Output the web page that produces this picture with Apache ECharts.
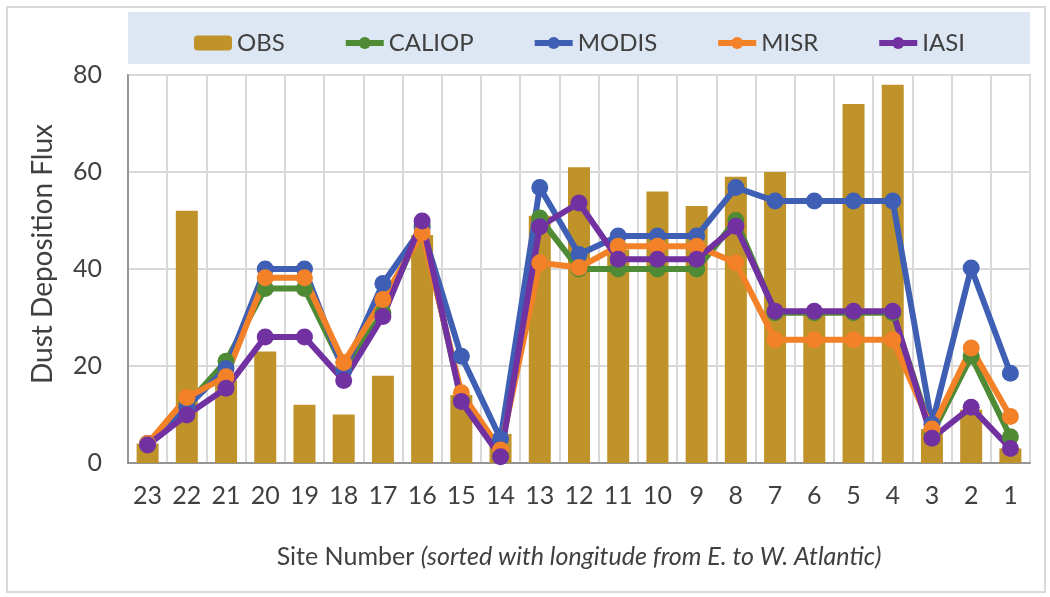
<!DOCTYPE html>
<html>
<head>
<meta charset="utf-8">
<script src="https://cdn.jsdelivr.net/npm/echarts@6/dist/echarts.min.js"></script>
<style>
html,body{margin:0;padding:0;background:#fff;}
#chart{width:1050px;height:597px;}
</style>
</head>
<body>
<div id="chart"></div>
<script>
const sites = ['23','22','21','20','19','18','17','16','15','14','13','12','11','10','9','8','7','6','5','4','3','2','1'];
const OBS    = [4, 52, 17, 23, 12, 10, 18, 47, 14, 6, 51, 61, 44, 56, 53, 59, 60, 31, 74, 78, 7, 11, 3];
const CALIOP = [4, 12, 21, 36, 36, 19.5, 31, 49, 13, 2, 50.5, 40, 40, 40, 40, 50, 31, 31, 31, 31, 6, 22, 5.4];
const MODIS  = [4, 11.5, 19.5, 40, 40, 19, 37, 48.5, 22, 5, 56.8, 43, 46.8, 46.8, 46.8, 56.8, 54, 54, 54, 54, 8, 40.2, 18.5];
const MISR   = [4, 13.5, 17.8, 38.2, 38.2, 20.7, 33.7, 47.5, 14.5, 2.7, 41.3, 40.3, 44.7, 44.7, 44.7, 41.3, 25.4, 25.4, 25.4, 25.4, 7, 23.7, 9.6];
const IASI   = [3.7, 9.9, 15.4, 26, 26, 17, 30.2, 49.9, 12.7, 1.3, 48.7, 53.6, 42, 42, 42, 48.8, 31.3, 31.3, 31.3, 31.3, 5.1, 11.5, 3];
const yTicks = [0, 20, 40, 60, 80];

const FONT = 'Lato';
const TXT = '#404040';
const colors = {OBS:'#C0922A', CALIOP:'#4E8B34', MODIS:'#3F5FB4', MISR:'#F28128', IASI:'#7131A1'};

function lineSeries(name, data){
  return {
    name, type:'line', data,
    symbol:'circle', symbolSize:17,
    lineStyle:{width:6, color:colors[name]},
    itemStyle:{color:colors[name]},
    emphasis:{disabled:true}
  };
}

const chart = echarts.init(document.getElementById('chart'));
chart.setOption({
  animation:false,
  textStyle:{fontFamily:FONT, color:TXT},
  graphic:[
    {type:'rect', shape:{x:7, y:7, width:1038, height:585}, style:{fill:'none', stroke:'#d9d9d9', lineWidth:2}, z:-10},
    {type:'rect', shape:{x:128, y:12, width:902, height:52}, style:{fill:'#DDE7F3'}, z:-5}
  ],
  legend:{
    left:189, top:26,
    itemGap:58, itemWidth:38, itemHeight:15,
    lineStyle:{width:6},
    textStyle:{fontFamily:FONT, fontSize:24, color:TXT},
    data:['OBS','CALIOP','MODIS','MISR','IASI']
  },
  grid:{left:128, right:20, top:75, bottom:134, show:true, borderColor:'#7f7f7f', borderWidth:1.5, backgroundColor:'transparent'},
  xAxis:{
    type:'category', data:sites, boundaryGap:true,
    axisLine:{lineStyle:{color:'#7f7f7f', width:1.5}},
    axisTick:{show:false},
    axisLabel:{fontFamily:FONT, fontSize:25, color:TXT, margin:20, interval:0},
    splitLine:{show:true, interval:0, lineStyle:{color:'#d9d9d9', width:2}},
    name:'{n|Site Number }{i|(sorted with longitude from E. to W. Atlantic)}',
    nameLocation:'middle', nameGap:81,
    nameTextStyle:{rich:{
      n:{fontFamily:FONT, fontSize:25, color:TXT},
      i:{fontFamily:FONT, fontSize:25, color:TXT, fontStyle:'italic'}
    }}
  },
  yAxis:{
    type:'value', min:yTicks[0], max:yTicks[yTicks.length-1], interval:20,
    axisLine:{show:true, lineStyle:{color:'#7f7f7f', width:1.5}},
    axisTick:{show:false},
    axisLabel:{fontFamily:FONT, fontSize:25, color:TXT, margin:26},
    splitLine:{show:true, lineStyle:{color:'#d9d9d9', width:2}},
    name:'Dust Deposition Flux', nameLocation:'middle', nameGap:71,
    nameTextStyle:{fontFamily:FONT, fontSize:28, color:TXT, padding:[0,0,0,30]}
  },
  series:[
    {name:'OBS', type:'bar', data:OBS, barWidth:22, itemStyle:{color:colors.OBS}, emphasis:{disabled:true}},
    lineSeries('CALIOP', CALIOP),
    lineSeries('MODIS', MODIS),
    lineSeries('MISR', MISR),
    lineSeries('IASI', IASI)
  ]
});
</script>
</body>
</html>
